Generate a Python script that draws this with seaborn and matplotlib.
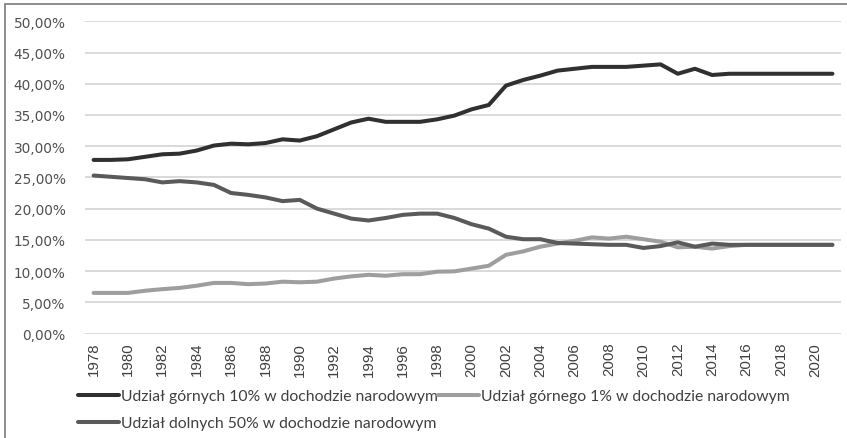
import numpy as np
import pandas as pd
import matplotlib
matplotlib.use("Agg")
import matplotlib.pyplot as plt
from matplotlib.ticker import FuncFormatter
from matplotlib.patches import Rectangle
import seaborn as sns

# Dane, udziały w %
lata = list(range(1978, 2022))

gorne_10 = [27.8, 27.8, 27.9, 28.3, 28.7, 28.8, 29.3, 30.1, 30.4, 30.3,
            30.5, 31.1, 30.9, 31.6, 32.7, 33.8, 34.4, 33.9, 33.9, 33.9,
            34.3, 34.9, 35.9, 36.6, 39.7, 40.6, 41.3, 42.1, 42.4, 42.7,
            42.7, 42.7, 42.9, 43.1, 41.6, 42.4, 41.4, 41.6, 41.6, 41.6,
            41.6, 41.6, 41.6, 41.6]

gorny_1 = [6.5, 6.5, 6.5, 6.85, 7.1, 7.3, 7.65, 8.1, 8.1, 7.9,
           8.0, 8.3, 8.2, 8.3, 8.8, 9.15, 9.4, 9.25, 9.5, 9.5,
           9.9, 9.95, 10.4, 10.85, 12.6, 13.15, 13.9, 14.4, 14.85, 15.4,
           15.2, 15.5, 15.1, 14.7, 13.8, 13.9, 13.6, 14.0, 14.2, 14.2,
           14.2, 14.2, 14.2, 14.2]

dolne_50 = [25.3, 25.1, 24.9, 24.7, 24.2, 24.4, 24.2, 23.8, 22.5, 22.2,
            21.8, 21.2, 21.4, 20.0, 19.2, 18.4, 18.1, 18.5, 19.0, 19.2,
            19.2, 18.5, 17.5, 16.8, 15.5, 15.1, 15.1, 14.5, 14.4, 14.3,
            14.2, 14.2, 13.7, 14.0, 14.6, 13.9, 14.4, 14.2, 14.2, 14.2,
            14.2, 14.2, 14.2, 14.2]

etykiety = ["Udział górnych 10% w dochodzie narodowym",
            "Udział górnego 1% w dochodzie narodowym",
            "Udział dolnych 50% w dochodzie narodowym"]
kolory = ["#303030", "#9e9e9e", "#5a5a5a"]

df = pd.DataFrame({
    "rok": lata * 3,
    "udzial": np.array(gorne_10 + gorny_1 + dolne_50) / 100,
    "seria": [etykiety[0]] * len(lata) + [etykiety[1]] * len(lata) + [etykiety[2]] * len(lata),
})

sns.set_style("white")
plt.rcParams['font.family'] = ['DejaVu Sans']

fig = plt.figure(figsize=(8.47, 4.39), dpi=100)
ax = fig.add_axes([85 / 847, 1 - 334.5 / 439, (841 - 85) / 847, (334.5 - 22.3) / 439])

sns.lineplot(data=df, x="rok", y="udzial", hue="seria", hue_order=etykiety,
             palette=kolory, linewidth=2.9, ax=ax, legend=False)

ax.set_xlim(1977.5, 2021.5)
ax.set_ylim(0, 0.5)
ax.set_yticks(np.arange(0, 0.501, 0.05))
ax.yaxis.set_major_formatter(FuncFormatter(lambda v, p: f"{v * 100:.2f}%".replace(".", ",")))
ax.set_xticks(range(1978, 2021, 2))
ax.set_xticklabels([str(r) for r in range(1978, 2021, 2)], rotation=90,
                   family=['Liberation Sans', 'DejaVu Sans'], fontsize=10.8, color="#404040")
for t in ax.get_yticklabels():
    t.set_fontsize(9.8)
    t.set_color("#505050")
ax.tick_params(axis="both", length=0)
ax.tick_params(axis="y", pad=14)
ax.tick_params(axis="x", pad=6)
ax.grid(axis="y", color="#cfcfcf", linewidth=1.1)
ax.grid(axis="x", visible=False)
for s in ax.spines.values():
    s.set_visible(False)
ax.set_xlabel("")
ax.set_ylabel("")

# legenda: kolejnosc kolumnami
linie = [plt.Line2D([], [], color=k, linewidth=2.9) for k in kolory]
kolejnosc = [0, 2, 1]
fig.legend([linie[i] for i in kolejnosc], [etykiety[i] for i in kolejnosc],
           loc="upper left", bbox_to_anchor=(78 / 847, 1 - 390 / 439), ncol=2,
           frameon=False, borderpad=0, borderaxespad=0, handlelength=2.6,
           handletextpad=0.15, columnspacing=0.0, labelspacing=0.85,
           prop={"family": ["Lato", "DejaVu Sans"], "size": 11.3}, labelcolor="#404040")

# ramka wykresu
fig.patches.append(Rectangle((5 / 847, -0.2), 1.2, 1.2 - 5 / 439, transform=fig.transFigure,
                             fill=False, edgecolor="#7a7a7a", linewidth=1.2))

fig.savefig("out.png", dpi=100)
